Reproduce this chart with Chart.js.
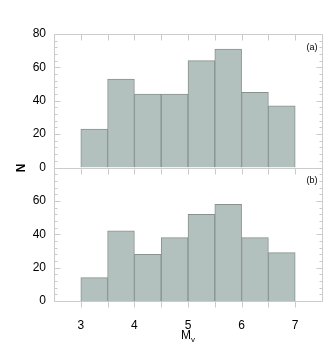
<!DOCTYPE html>
<html><head><meta charset="utf-8">
<script src="https://cdn.jsdelivr.net/npm/chart.js@4/dist/chart.umd.min.js"></script>
<style>html,body{margin:0;padding:0;background:#fff}#wrap{position:relative;width:331px;height:343px}</style>
</head><body><div id="wrap"><canvas id="c" width="331" height="343"></canvas></div>
<script>
const binCenters = [3.25, 3.75, 4.25, 4.75, 5.25, 5.75, 6.25, 6.75];
const countsA = [23, 53, 44, 44, 64, 71, 45, 37];
const countsB = [14, 42, 28, 38, 52, 58, 38, 29];
const xTicks = [3, 4, 5, 6, 7];
const yTicksA = [0, 20, 40, 60, 80];
const yTicksB = [0, 20, 40, 60];
const panelLabels = ['(a)', '(b)'];
const xTitle = 'M', xTitleSub = 'v', yTitle = 'N';

const FONT = '"Liberation Sans", Arial, sans-serif';
const frameColor = '#cbcbcb';

const decor = {
  id: 'decor',
  afterDatasetsDraw(chart) {
    const ctx = chart.ctx, ca = chart.chartArea, x = chart.scales.x;
    ctx.save();
    ctx.strokeStyle = frameColor; ctx.lineWidth = 1;
    const panels = [chart.scales.yA, chart.scales.yB];
    panels.forEach((s, pi) => {
      const top = Math.round(s.top) + 0.5, bot = Math.round(s.bottom) + 0.5;
      const l = Math.round(ca.left) + 0.5, r = Math.round(ca.right) + 0.5;
      ctx.beginPath(); ctx.rect(l, top, r - l, bot - top); ctx.stroke();
      ctx.beginPath();
      for (let v = 3; v <= 7.001; v += 0.5) {
        const px = Math.round(x.getPixelForValue(v)) + 0.5;
        ctx.moveTo(px, top); ctx.lineTo(px, top + 6);
        if (pi === 1) { ctx.moveTo(px, bot); ctx.lineTo(px, bot + 6); }
      }
      for (let v = 0; v <= 80; v += 4) {
        const py = Math.round(s.getPixelForValue(v)) + 0.5;
        const len = (v % 20 === 0) ? 6 : 3;
        ctx.moveTo(l, py); ctx.lineTo(l + len, py);
        ctx.moveTo(r, py); ctx.lineTo(r - len, py);
      }
      ctx.stroke();
      ctx.fillStyle = '#000'; ctx.font = '9px ' + FONT;
      ctx.textAlign = 'right'; ctx.textBaseline = 'middle';
      ctx.fillText(panelLabels[pi], r - 5, s.top + 13.5);
    });
    ctx.fillStyle = '#000';
    ctx.font = 'bold 12px ' + FONT;
    ctx.save();
    ctx.translate(22, (chart.scales.yA.bottom + chart.scales.yB.top) / 2 + 0.5);
    ctx.rotate(-Math.PI / 2);
    ctx.textAlign = 'center'; ctx.textBaseline = 'middle';
    ctx.fillText(yTitle, 0, 0);
    ctx.restore();
    const cx = x.getPixelForValue(5);
    ctx.font = '12px ' + FONT;
    const mw = ctx.measureText(xTitle).width;
    ctx.font = '8px ' + FONT;
    const sw = ctx.measureText(xTitleSub).width;
    const start = cx - (mw + sw) / 2;
    ctx.textAlign = 'left'; ctx.textBaseline = 'alphabetic';
    ctx.font = '12px ' + FONT;
    ctx.fillText(xTitle, start, 339);
    ctx.font = '8px ' + FONT;
    ctx.fillText(xTitleSub, start + mw, 342);
    ctx.restore();
  }
};

function barSet(vals, axis) {
  return {
    data: binCenters.map((c, i) => ({ x: c, y: vals[i] })),
    yAxisID: axis,
    backgroundColor: '#b3c1be',
    borderColor: '#87928f',
    borderWidth: 1,
    barPercentage: 1,
    categoryPercentage: 1,
    grouped: false
  };
}

function yScale(ticks, stackWeight) {
  return {
    type: 'linear', position: 'left', stack: 'n', stackWeight: stackWeight,
    min: 0, max: 80,
    afterBuildTicks: s => { s.ticks = ticks.map(v => ({ value: v })); },
    afterFit: s => { s.width = 54; },
    grid: { display: false, drawTicks: false },
    border: { display: false },
    ticks: { color: '#000', padding: 8, font: { family: FONT, size: 12 } }
  };
}

new Chart(document.getElementById('c'), {
  type: 'bar',
  data: { datasets: [barSet(countsA, 'yA'), barSet(countsB, 'yB')] },
  options: {
    responsive: false, animation: false, devicePixelRatio: 1,
    layout: { padding: { top: 34, right: 9, left: 0, bottom: 0 } },
    plugins: { legend: { display: false }, tooltip: { enabled: false } },
    scales: {
      x: {
        type: 'linear', min: 2.5, max: 7.5, offset: false,
        afterBuildTicks: s => { s.ticks = xTicks.map(v => ({ value: v })); },
        afterFit: s => { s.height = 42; },
        grid: { display: false, drawTicks: false, offset: false },
        border: { display: false },
        ticks: { color: '#000', padding: 17, font: { family: FONT, size: 12 } }
      },
      yB: yScale(yTicksB, 1),
      yA: yScale(yTicksA, 1)
    }
  },
  plugins: [decor]
});
</script>
</body></html>
